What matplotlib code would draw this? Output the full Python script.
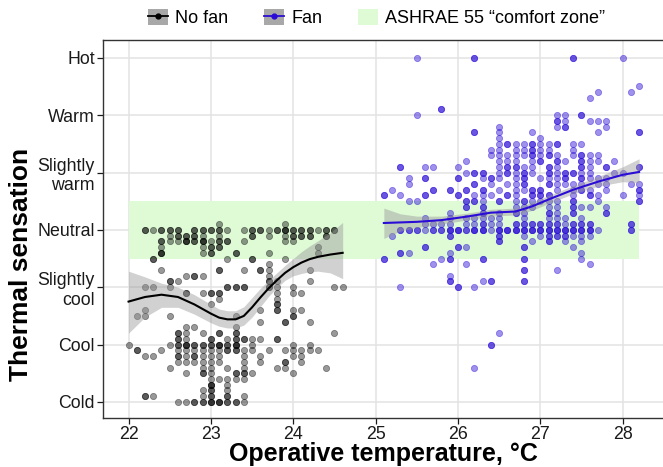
import numpy as np
import matplotlib
matplotlib.use("Agg")
import matplotlib.pyplot as plt
from matplotlib.patches import Patch
from matplotlib.lines import Line2D

plt.rcParams['font.family'] = ['Liberation Sans', 'DejaVu Sans']

# thermal sensation scale
sens_labels = ['Cold', 'Cool', 'Slightly\ncool', 'Neutral', 'Slightly\nwarm', 'Warm', 'Hot']
sens_values = [-3, -2, -1, 0, 1, 2, 3]
temp_ticks = [22, 23, 24, 25, 26, 27, 28]

# comfort zone (x0, x1, y0, y1)
zone_x = [22.0, 28.2]
zone_y = [-0.5, 0.5]

# (temperature, sensation, number of overlapping votes)
nofan_pts = [
    (23.1, 0.1, 1), (23.9, 0.1, 1),
    (22.2, 0, 2), (22.3, 0, 1), (22.4, 0, 2), (22.5, 0, 2), (22.6, 0, 2), (22.8, 0, 2), (22.9, 0, 2),
    (23.0, 0, 2), (23.1, 0, 2), (23.2, 0, 1), (23.4, 0, 1), (23.5, 0, 2), (23.6, 0, 2), (23.7, 0, 1),
    (23.8, 0, 2), (23.9, 0, 3), (24.0, 0, 2), (24.1, 0, 2), (24.2, 0, 2), (24.3, 0, 1), (24.4, 0, 2), (24.5, 0, 2),
    (22.5, -0.1, 1), (22.6, -0.1, 2), (22.7, -0.1, 2), (22.8, -0.1, 2), (22.9, -0.1, 1), (23.1, -0.1, 1),
    (23.5, -0.1, 2), (23.7, -0.1, 1), (23.9, -0.1, 1), (24.0, -0.1, 2), (24.1, -0.1, 2), (24.2, -0.1, 2), (24.4, -0.1, 2),
    (22.4, -0.2, 2), (22.5, -0.2, 1), (22.6, -0.2, 1), (22.7, -0.2, 3), (22.8, -0.2, 2), (22.9, -0.2, 3),
    (23.0, -0.2, 1), (23.1, -0.2, 2), (23.2, -0.2, 2), (23.4, -0.2, 1), (23.9, -0.2, 1), (24.0, -0.2, 1),
    (22.4, -0.3, 1), (22.9, -0.3, 1), (23.0, -0.3, 2), (23.1, -0.3, 2), (24.3, -0.3, 1),
    (22.4, -0.4, 3), (22.9, -0.4, 1), (23.0, -0.4, 2), (23.3, -0.4, 2), (23.7, -0.4, 1), (24.3, -0.4, 1),
    (22.3, -0.5, 2), (23.2, -0.5, 1), (23.5, -0.5, 2), (23.9, -0.5, 1),
    (23.7, -0.6, 1),
    (22.4, -0.7, 1), (23.1, -0.7, 2), (23.4, -0.7, 1), (23.6, -0.7, 2), (23.7, -0.7, 1), (24.2, -0.7, 1),
    (22.7, -0.8, 1), (22.8, -0.8, 2), (22.9, -0.8, 1), (23.7, -0.8, 1),
    (22.5, -0.9, 2), (22.6, -0.9, 1), (23.7, -0.9, 2), (23.8, -0.9, 1), (24.2, -0.9, 1),
    (22.2, -1.0, 1), (22.3, -1.0, 1), (22.5, -1.0, 1), (23.2, -1.0, 2), (23.3, -1.0, 2), (23.4, -1.0, 2),
    (23.7, -1.0, 2), (23.8, -1.0, 1), (24.0, -1.0, 1), (24.5, -1.0, 1), (24.6, -1.0, 1),
    (22.7, -1.1, 2), (22.9, -1.1, 1), (23.0, -1.1, 2), (23.1, -1.1, 2), (23.8, -1.1, 1), (24.0, -1.1, 1), (24.1, -1.1, 1),
    (23.1, -1.2, 1), (23.8, -1.2, 1),
    (23.0, -1.3, 1), (23.8, -1.3, 2),
    (22.2, -1.4, 1), (23.6, -1.4, 1), (23.8, -1.4, 2), (24.0, -1.4, 1), (24.1, -1.4, 1),
    (22.1, -1.5, 1), (22.2, -1.5, 1), (22.5, -1.5, 1), (23.3, -1.5, 1), (24.0, -1.5, 2),
    (23.6, -1.6, 1), (23.9, -1.6, 2), (24.2, -1.6, 1),
    (22.7, -1.7, 1), (22.8, -1.7, 1), (23.3, -1.7, 1),
    (22.6, -1.8, 2), (22.7, -1.8, 1), (22.9, -1.8, 1), (23.1, -1.8, 2), (23.3, -1.8, 2), (24.5, -1.8, 1),
    (22.6, -1.9, 2), (22.7, -1.9, 1), (23.0, -1.9, 2), (23.2, -1.9, 1), (23.3, -1.9, 2), (23.4, -1.9, 2),
    (23.5, -1.9, 1), (23.6, -1.9, 1), (23.8, -1.9, 2),
    (22.0, -2.0, 1), (22.5, -2.0, 1), (22.6, -2.0, 2), (22.7, -2.0, 3), (22.8, -2.0, 2), (22.9, -2.0, 2),
    (23.0, -2.0, 2), (23.1, -2.0, 3), (23.2, -2.0, 2), (23.3, -2.0, 3), (23.5, -2.0, 1), (24.0, -2.0, 1), (24.2, -2.0, 1),
    (22.1, -2.1, 2), (22.4, -2.1, 1), (22.6, -2.1, 1), (22.7, -2.1, 1), (22.8, -2.1, 1), (22.9, -2.1, 1),
    (23.0, -2.1, 1), (23.1, -2.1, 1), (23.2, -2.1, 2), (23.3, -2.1, 2), (23.4, -2.1, 1), (23.5, -2.1, 1),
    (23.7, -2.1, 1), (23.9, -2.1, 1), (24.0, -2.1, 1), (24.1, -2.1, 1), (24.2, -2.1, 1), (24.3, -2.1, 1),
    (22.2, -2.2, 1), (22.3, -2.2, 1), (22.6, -2.2, 2), (22.7, -2.2, 1), (22.8, -2.2, 2), (22.9, -2.2, 1),
    (23.0, -2.2, 1), (23.1, -2.2, 1), (23.4, -2.2, 1), (23.6, -2.2, 1), (24.0, -2.2, 1), (24.1, -2.2, 1),
    (22.6, -2.3, 1), (22.7, -2.3, 1), (22.8, -2.3, 1), (22.9, -2.3, 1), (23.0, -2.3, 1), (23.1, -2.3, 1),
    (23.4, -2.3, 1), (23.6, -2.3, 1), (23.9, -2.3, 2), (24.1, -2.3, 1),
    (22.5, -2.4, 1), (22.9, -2.4, 1), (23.0, -2.4, 1), (23.2, -2.4, 1), (23.4, -2.4, 1), (23.8, -2.4, 1),
    (23.9, -2.4, 1), (24.4, -2.4, 1),
    (22.7, -2.5, 1), (22.9, -2.5, 2), (23.0, -2.5, 1), (23.3, -2.5, 2), (23.4, -2.5, 2), (23.5, -2.5, 1), (24.0, -2.5, 1),
    (23.0, -2.6, 1), (23.1, -2.6, 1), (23.2, -2.6, 1), (23.3, -2.6, 1), (23.4, -2.6, 1),
    (23.0, -2.7, 3), (23.2, -2.7, 1),
    (22.9, -2.8, 1), (23.0, -2.8, 2), (23.2, -2.8, 1),
    (22.2, -2.9, 2), (22.3, -2.9, 1), (22.9, -2.9, 1), (23.0, -2.9, 2), (23.2, -2.9, 2), (23.4, -2.9, 1),
    (22.6, -3.0, 1), (22.7, -3.0, 1), (22.8, -3.0, 2), (22.9, -3.0, 2), (23.0, -3.0, 3), (23.1, -3.0, 3),
    (23.2, -3.0, 2), (23.3, -3.0, 2), (23.4, -3.0, 1),
]

fan_pts = [
    (25.5, 3.0, 1), (26.2, 3.0, 2), (27.4, 3.0, 2), (28.0, 3.0, 1),
    (28.2, 2.5, 1), (27.7, 2.4, 1), (28.1, 2.4, 1), (27.6, 2.3, 1), (25.8, 2.1, 2),
    (25.5, 2.0, 1), (27.2, 2.0, 1), (27.3, 2.0, 1), (27.5, 2.0, 2),
    (27.2, 1.9, 2), (27.3, 1.9, 1), (27.6, 1.9, 1), (27.7, 1.9, 1), (27.8, 1.9, 1),
    (26.5, 1.8, 1), (27.2, 1.8, 1), (27.3, 1.8, 2), (27.8, 1.8, 1),
    (26.2, 1.7, 2), (26.5, 1.7, 1), (26.9, 1.7, 1), (27.7, 1.7, 1), (28.2, 1.7, 2),
    (26.5, 1.6, 1), (27.0, 1.6, 1),
    (26.5, 1.5, 1), (26.6, 1.5, 2), (26.7, 1.5, 1), (26.8, 1.5, 1), (26.9, 1.5, 2), (27.0, 1.5, 1),
    (27.1, 1.5, 1), (27.2, 1.5, 2), (27.4, 1.5, 1), (27.5, 1.5, 1),
    (26.4, 1.4, 1), (26.5, 1.4, 1), (26.7, 1.4, 1), (26.8, 1.4, 1), (26.9, 1.4, 2), (27.0, 1.4, 1),
    (27.1, 1.4, 1), (27.4, 1.4, 1),
    (26.4, 1.3, 1), (26.5, 1.3, 1), (26.6, 1.3, 1), (26.7, 1.3, 1), (26.8, 1.3, 1), (26.9, 1.3, 2),
    (27.0, 1.3, 1), (27.1, 1.3, 2), (27.2, 1.3, 1), (27.4, 1.3, 1), (27.5, 1.3, 2), (27.6, 1.3, 1), (27.7, 1.3, 1),
    (26.1, 1.2, 1), (26.5, 1.2, 1), (26.6, 1.2, 1), (26.7, 1.2, 1), (26.9, 1.2, 1), (27.0, 1.2, 2),
    (27.2, 1.2, 2), (27.3, 1.2, 1), (27.5, 1.2, 2), (27.6, 1.2, 1), (27.7, 1.2, 1), (27.9, 1.2, 1),
    (25.3, 1.1, 2), (25.6, 1.1, 1), (25.7, 1.1, 1), (26.0, 1.1, 1), (26.5, 1.1, 1), (26.6, 1.1, 2),
    (26.7, 1.1, 2), (26.8, 1.1, 1), (26.9, 1.1, 1), (27.1, 1.1, 2), (27.2, 1.1, 1), (27.5, 1.1, 2),
    (27.6, 1.1, 1), (27.8, 1.1, 2), (28.2, 1.1, 2),
    (26.1, 1.0, 1), (26.2, 1.0, 2), (26.3, 1.0, 2), (26.5, 1.0, 1), (26.6, 1.0, 2), (26.7, 1.0, 1),
    (26.8, 1.0, 2), (26.9, 1.0, 1), (27.1, 1.0, 2), (27.2, 1.0, 1), (27.3, 1.0, 2), (27.4, 1.0, 2),
    (27.5, 1.0, 1), (27.6, 1.0, 1), (27.9, 1.0, 1), (28.0, 1.0, 1),
    (25.4, 0.9, 1), (25.6, 0.9, 2), (26.0, 0.9, 2), (26.3, 0.9, 1), (26.4, 0.9, 2), (26.5, 0.9, 1),
    (26.7, 0.9, 1), (26.8, 0.9, 2), (27.0, 0.9, 1), (27.1, 0.9, 1), (27.2, 0.9, 1), (27.3, 0.9, 2),
    (27.5, 0.9, 2), (27.6, 0.9, 1), (27.7, 0.9, 1), (27.8, 0.9, 1),
    (25.4, 0.8, 1), (26.2, 0.8, 2), (26.4, 0.8, 1), (26.6, 0.8, 1), (26.7, 0.8, 1), (26.8, 0.8, 2),
    (27.1, 0.8, 2), (27.2, 0.8, 1), (27.3, 0.8, 1), (27.4, 0.8, 1), (27.5, 0.8, 1), (27.7, 0.8, 1),
    (27.8, 0.8, 1), (28.1, 0.8, 1), (28.2, 0.8, 1),
    (25.2, 0.7, 1), (25.7, 0.7, 2), (25.9, 0.7, 2), (26.1, 0.7, 2), (26.3, 0.7, 2), (26.5, 0.7, 1),
    (26.7, 0.7, 1), (26.8, 0.7, 1), (26.9, 0.7, 2), (27.0, 0.7, 2), (27.2, 0.7, 1), (27.4, 0.7, 1),
    (27.5, 0.7, 2), (27.6, 0.7, 1), (27.8, 0.7, 1), (28.2, 0.7, 2),
    (25.1, 0.6, 2), (25.3, 0.6, 1), (25.6, 0.6, 2), (26.0, 0.6, 2), (26.2, 0.6, 1), (26.3, 0.6, 1),
    (26.4, 0.6, 1), (26.6, 0.6, 2), (26.7, 0.6, 1), (26.9, 0.6, 2), (27.0, 0.6, 2), (27.1, 0.6, 2),
    (27.4, 0.6, 1), (27.6, 0.6, 2), (27.7, 0.6, 1), (28.0, 0.6, 1), (28.2, 0.6, 1),
    (25.4, 0.5, 1), (25.5, 0.5, 1), (26.1, 0.5, 2), (26.2, 0.5, 2), (26.3, 0.5, 1), (26.5, 0.5, 2),
    (26.7, 0.5, 1), (26.8, 0.5, 2), (26.9, 0.5, 1), (27.0, 0.5, 1), (27.1, 0.5, 1), (27.2, 0.5, 1),
    (27.4, 0.5, 2), (27.7, 0.5, 1), (28.2, 0.5, 2),
    (26.1, 0.4, 2), (26.3, 0.4, 2), (26.7, 0.4, 1), (26.8, 0.4, 1), (26.9, 0.4, 1), (27.1, 0.4, 1),
    (27.2, 0.4, 1), (27.4, 0.4, 2), (27.5, 0.4, 1), (27.6, 0.4, 1), (27.8, 0.4, 1),
    (25.9, 0.3, 1), (26.3, 0.3, 2), (26.5, 0.3, 1), (26.7, 0.3, 2), (26.8, 0.3, 1), (27.1, 0.3, 2),
    (27.2, 0.3, 1), (27.4, 0.3, 2), (27.8, 0.3, 2),
    (25.6, 0.2, 1), (25.9, 0.2, 1), (26.1, 0.2, 1), (26.2, 0.2, 1), (26.3, 0.2, 1), (26.4, 0.2, 1),
    (26.5, 0.2, 1), (26.8, 0.2, 1), (27.1, 0.2, 1), (27.2, 0.2, 1), (27.3, 0.2, 1), (27.5, 0.2, 1),
    (25.6, 0.1, 1), (25.7, 0.1, 1), (25.8, 0.1, 1), (25.9, 0.1, 1), (26.1, 0.1, 1), (26.2, 0.1, 1),
    (26.3, 0.1, 2), (26.4, 0.1, 1), (26.5, 0.1, 1), (26.7, 0.1, 2), (26.8, 0.1, 2), (26.9, 0.1, 2),
    (27.0, 0.1, 2), (27.1, 0.1, 2), (27.2, 0.1, 2), (27.3, 0.1, 1), (27.4, 0.1, 2), (27.5, 0.1, 2),
    (27.6, 0.1, 2), (28.1, 0.1, 2),
    (25.3, 0, 2), (25.4, 0, 2), (25.5, 0, 2), (25.6, 0, 1), (25.7, 0, 2), (25.8, 0, 2), (25.9, 0, 3),
    (26.0, 0, 3), (26.1, 0, 2), (26.2, 0, 3), (26.3, 0, 3), (26.4, 0, 1), (26.5, 0, 3), (26.6, 0, 3),
    (26.7, 0, 3), (26.8, 0, 3), (26.9, 0, 3), (27.0, 0, 3), (27.1, 0, 3), (27.2, 0, 3), (27.3, 0, 3),
    (27.4, 0, 3), (27.5, 0, 3), (27.6, 0, 3), (27.7, 0, 1), (28.1, 0, 2),
    (25.2, -0.1, 1), (25.9, -0.1, 2), (26.5, -0.1, 2), (26.8, -0.1, 1), (27.0, -0.1, 1), (27.1, -0.1, 2),
    (27.2, -0.1, 2), (27.3, -0.1, 2), (27.4, -0.1, 1), (27.5, -0.1, 1), (27.6, -0.1, 1),
    (26.5, -0.2, 2), (26.9, -0.2, 1), (27.1, -0.2, 2), (27.3, -0.2, 1), (27.5, -0.2, 1),
    (25.6, -0.3, 2), (26.0, -0.3, 2), (26.1, -0.3, 1), (26.8, -0.3, 2), (27.4, -0.3, 1),
    (25.3, -0.4, 2), (25.4, -0.4, 1), (25.9, -0.4, 1), (27.5, -0.4, 1),
    (25.1, -0.5, 2), (25.8, -0.5, 1), (25.9, -0.5, 2), (26.3, -0.5, 2), (26.8, -0.5, 2), (27.5, -0.5, 1),
    (25.7, -0.6, 1), (26.1, -0.6, 1), (27.6, -0.6, 1),
    (26.8, -0.7, 2), (27.2, -0.7, 1),
    (25.9, -0.8, 1),
    (25.9, -0.9, 2), (26.3, -0.9, 1), (26.4, -0.9, 2), (26.8, -0.9, 2),
    (25.3, -1.0, 1), (26.0, -1.0, 2), (26.2, -1.0, 1),
    (26.5, -1.8, 1), (26.4, -2.0, 2), (26.2, -2.4, 1),
]

# loess fits
nofan_fit_x = [22.0, 22.2, 22.4, 22.6, 22.8, 23.0, 23.1, 23.2, 23.3, 23.4, 23.5, 23.6, 23.7, 23.8, 23.9, 24.0, 24.1, 24.2, 24.3, 24.45, 24.6]
nofan_fit_y = [-1.25, -1.17, -1.13, -1.17, -1.30, -1.46, -1.53, -1.56, -1.56, -1.50, -1.35, -1.18, -1.02, -0.88, -0.75, -0.65, -0.57, -0.51, -0.47, -0.43, -0.40]
nofan_fit_lo = [-1.80, -1.52, -1.35, -1.35, -1.47, -1.62, -1.68, -1.71, -1.71, -1.66, -1.52, -1.34, -1.16, -1.01, -0.88, -0.80, -0.76, -0.73, -0.72, -0.75, -0.85]
nofan_fit_hi = [-0.72, -0.82, -0.93, -1.00, -1.13, -1.30, -1.38, -1.41, -1.41, -1.34, -1.18, -1.02, -0.88, -0.75, -0.62, -0.50, -0.38, -0.28, -0.19, -0.05, 0.13]

fan_fit_x = [25.1, 25.3, 25.5, 25.8, 26.1, 26.4, 26.7, 26.9, 27.1, 27.4, 27.7, 28.0, 28.2]
fan_fit_y = [0.12, 0.13, 0.14, 0.17, 0.23, 0.30, 0.32, 0.41, 0.53, 0.70, 0.84, 0.96, 1.01]
fan_fit_lo = [-0.15, -0.02, 0.04, 0.10, 0.17, 0.24, 0.26, 0.34, 0.46, 0.63, 0.76, 0.84, 0.82]
fan_fit_hi = [0.38, 0.28, 0.24, 0.24, 0.29, 0.36, 0.38, 0.48, 0.60, 0.77, 0.93, 1.10, 1.24]


def expand(pts):
    arr = np.array(pts, dtype=float)
    n = arr[:, 2].astype(int)
    return np.repeat(arr[:, 0], n), np.repeat(arr[:, 1], n)


fig = plt.figure(figsize=(6.63, 4.67), dpi=100)
ax = fig.add_axes([0.1554, 0.1049, 0.8446, 0.8094])

grid_col = '#e3e3e3'
ax.set_axisbelow(True)
ax.grid(True, color=grid_col, lw=1.1)

zone_col = '#dffbd6'
ax.fill_between(zone_x, zone_y[0], zone_y[1], color=zone_col, lw=0, zorder=1)

nofan_col = 'black'
fan_col = '#2a0cd6'

x0, y0 = expand(nofan_pts)
ax.scatter(x0, y0, s=20, facecolor=nofan_col, edgecolor=nofan_col, lw=0.6, alpha=0.4, zorder=2)
x1, y1 = expand(fan_pts)
ax.scatter(x1, y1, s=20, facecolor=fan_col, edgecolor=fan_col, lw=0.6, alpha=0.45, zorder=2)

ax.fill_between(nofan_fit_x, nofan_fit_lo, nofan_fit_hi, color='0.6', alpha=0.45, lw=0, zorder=3)
ax.plot(nofan_fit_x, nofan_fit_y, color=nofan_col, lw=1.5, zorder=4)
ax.fill_between(fan_fit_x, fan_fit_lo, fan_fit_hi, color='0.6', alpha=0.45, lw=0, zorder=3)
ax.plot(fan_fit_x, fan_fit_y, color=fan_col, lw=1.5, zorder=4)

ax.set_xlim(21.69, 28.49)
ax.set_ylim(-3.28, 3.31)
ax.set_xticks(temp_ticks)
ax.set_yticks(sens_values)
ax.set_yticklabels(sens_labels)
ax.tick_params(axis='both', labelsize=12.8, colors='#1a1a1a', length=4, width=0.9, pad=2)
for side in ['left', 'bottom', 'top']:
    ax.spines[side].set_color('#333333')
    ax.spines[side].set_linewidth(1.0)
ax.spines['right'].set_visible(False)

ax.set_xlabel('Operative temperature, °C', fontsize=18, fontweight='bold')
# keep the title's descenders inside the picture
ax.xaxis.label.set_verticalalignment('bottom')
ax.xaxis.set_label_coords(0.5, -0.126)
ax.set_ylabel('Thermal sensation', fontsize=19, fontweight='bold')
ax.yaxis.set_label_coords(-0.125, 0.405)

key_bg = '#a8a8a8'
h_nofan = (Patch(facecolor=key_bg, edgecolor='none'),
           Line2D([], [], color=nofan_col, lw=1.3, marker='o', ms=3.5))
h_fan = (Patch(facecolor=key_bg, edgecolor='none'),
         Line2D([], [], color=fan_col, lw=1.3, marker='o', ms=3.5))
h_zone = Patch(facecolor=zone_col, edgecolor='none')
fig.legend([h_nofan, h_fan, h_zone], ['No fan', 'Fan', 'ASHRAE 55 \u201ccomfort zone\u201d'],
           loc='center', bbox_to_anchor=(0.568, 0.962), ncol=3, frameon=False,
           fontsize=13, handlelength=1.1, handleheight=1.0, handletextpad=0.4,
           columnspacing=2.0)

fig.savefig('out.png', dpi=100)
